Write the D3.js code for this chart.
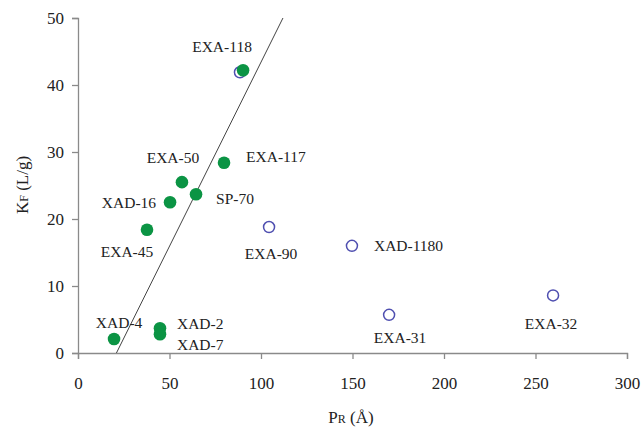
<!DOCTYPE html>
<html>
<head>
<meta charset="utf-8">
<script src="https://cdn.jsdelivr.net/npm/d3@7"></script>
<style>
    body { margin: 0; background: #fff; }
    text { font-family: "Liberation Serif", "Times New Roman", serif; fill: #222; }
</style>
</head>
<body>
<svg id="chart" width="644" height="429"></svg>
<script>
// Filled resins (green)
const filledNames = ["XAD-4", "XAD-2", "XAD-7", "EXA-45", "XAD-16", "EXA-50", "SP-70", "EXA-117", "EXA-118"];
const filledPore = [19.7, 44.8, 44.8, 37.7, 50.3, 56.8, 64.5, 79.8, 90.2];
const filledKf = [2.1, 3.7, 2.8, 18.4, 22.5, 25.5, 23.7, 28.4, 42.2];

// Open resins (blue)
const openNames = ["EXA-118", "EXA-90", "XAD-1180", "EXA-31", "EXA-32"];
const openPore = [88.5, 104.4, 149.7, 170, 259.6];
const openKf = [41.9, 18.8, 16, 5.7, 8.6];

// Trend line end points
const linePore = [21, 112];
const lineKf = [0, 50];

const xTicks = [0, 50, 100, 150, 200, 250, 300];
const yTicks = [0, 10, 20, 30, 40, 50];

// label placement (pixels from the point): name -> [dx, dy, anchor]
const labelOffsets = {
    "EXA-118": [-21, -24, "middle"],
    "EXA-50": [-9, -25, "middle"],
    "EXA-117": [22, -6, "start"],
    "XAD-16": [-14, 0, "end"],
    "SP-70": [20, 4, "start"],
    "EXA-45": [-20, 22, "middle"],
    "EXA-90": [2, 26, "middle"],
    "XAD-4": [5, -16, "middle"],
    "XAD-2": [17, -5, "start"],
    "XAD-7": [17, 10, "start"],
    "XAD-1180": [22, 0, "start"],
    "EXA-31": [11, 23, "middle"],
    "EXA-32": [-2, 28, "middle"]
};

const svg = d3.select("#chart");

const x = d3.scaleLinear().domain([0, 300]).range([78, 627]);
const y = d3.scaleLinear().domain([0, 50]).range([353, 18]);

const axisColor = "#8a8a8a";

// x axis
const xAxis = svg
    .append("g")
    .attr("transform", `translate(0,${y(0)})`)
    .call(d3.axisBottom(x).tickValues(xTicks).tickSize(6).tickPadding(18));

// y axis
const yAxis = svg
    .append("g")
    .attr("transform", `translate(${x(0)},0)`)
    .call(d3.axisLeft(y).tickValues(yTicks).tickSize(6).tickPadding(8));

for (const axis of [xAxis, yAxis]) {
    axis.select(".domain").attr("stroke", axisColor).attr("stroke-width", 1.3);
    axis.selectAll(".tick line").attr("stroke", axisColor).attr("stroke-width", 1.3);
    axis
        .selectAll(".tick text")
        .style("font-family", "'Liberation Serif', serif")
        .style("font-size", "17px")
        .attr("fill", "#222");
}

// trend line
svg
    .append("line")
    .attr("x1", x(linePore[0]))
    .attr("y1", y(lineKf[0]))
    .attr("x2", x(linePore[1]))
    .attr("y2", y(lineKf[1]))
    .attr("stroke", "#444")
    .attr("stroke-width", 1);

const openData = openNames.map((name, i) => ({ name, pore: openPore[i], kf: openKf[i] }));
const filledData = filledNames.map((name, i) => ({ name, pore: filledPore[i], kf: filledKf[i] }));

svg
    .append("g")
    .selectAll("circle")
    .data(openData)
    .join("circle")
    .attr("cx", d => x(d.pore))
    .attr("cy", d => y(d.kf))
    .attr("r", 5.5)
    .attr("fill", "#fff")
    .attr("stroke", "#4f4fb0")
    .attr("stroke-width", 1.5);

svg
    .append("g")
    .selectAll("circle")
    .data(filledData)
    .join("circle")
    .attr("cx", d => x(d.pore))
    .attr("cy", d => y(d.kf))
    .attr("r", 6.3)
    .attr("fill", "#0b9444");

// point labels, one per resin
const labelled = new Set();
const labels = [];
for (const d of filledData.concat(openData)) {
    if (labelled.has(d.name)) continue;
    labelled.add(d.name);
    labels.push(d);
}

svg
    .append("g")
    .selectAll("text")
    .data(labels)
    .join("text")
    .attr("x", d => x(d.pore) + labelOffsets[d.name][0])
    .attr("y", d => y(d.kf) + labelOffsets[d.name][1])
    .attr("text-anchor", d => labelOffsets[d.name][2])
    .attr("dominant-baseline", "central")
    .style("font-size", "15.5px")
    .text(d => d.name);

// axis titles
const xTitle = svg
    .append("text")
    .attr("x", 351)
    .attr("y", 423)
    .attr("text-anchor", "middle")
    .style("font-size", "17px");
xTitle.append("tspan").text("P");
xTitle.append("tspan").attr("font-size", "12px").text("R");
xTitle.append("tspan").text(" (Å)");

const yTitle = svg
    .append("text")
    .attr("transform", "translate(28,185) rotate(-90)")
    .attr("text-anchor", "middle")
    .style("font-size", "17px");
yTitle.append("tspan").text("K");
yTitle.append("tspan").attr("font-size", "12px").text("F");
yTitle.append("tspan").text(" (L/g)");
</script>
</body>
</html>
